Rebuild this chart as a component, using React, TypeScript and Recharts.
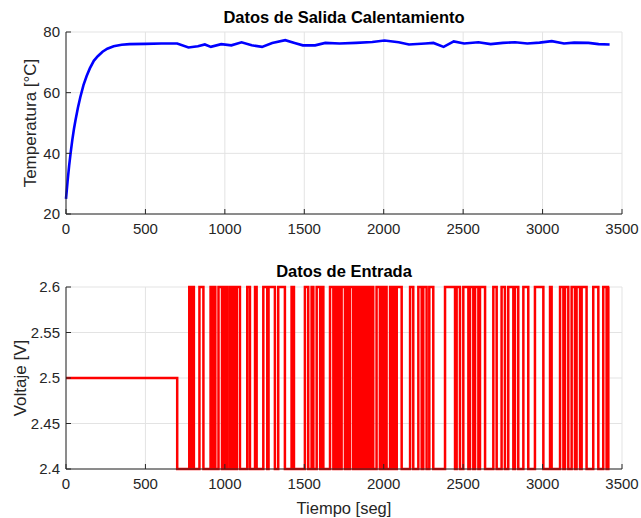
import { CartesianGrid, Line, LineChart, XAxis, YAxis } from 'recharts';

// temperature output (seconds, °C)
const tempTimes = [
  0, 10, 20, 30, 40, 50, 60, 75, 90, 110, 130, 150, 175, 200, 230, 260, 300,
  350, 400, 500, 600, 700, 771, 830, 874, 912, 977, 1041, 1105, 1169, 1234,
  1298, 1380, 1439, 1491, 1568, 1632, 1722, 1825, 1928, 2005, 2094, 2159,
  2262, 2313, 2377, 2441, 2506, 2596, 2673, 2750, 2827, 2904, 2981, 3058,
  3135, 3199, 3289, 3353, 3422,
];
const tempValues = [
  25, 30.8, 36, 40.5, 44.5, 48, 51, 55, 58.5, 62.5, 65.5, 68, 70.5, 72, 73.5,
  74.5, 75.3, 75.8, 76, 76.1, 76.2, 76.2, 74.9, 75.3, 75.9, 75.1, 76, 75.6,
  76.6, 75.6, 75.1, 76.4, 77.3, 76.4, 75.6, 75.6, 76.4, 76.2, 76.4, 76.7, 77.2,
  76.6, 75.9, 76.2, 76.4, 75.1, 76.9, 76.2, 76.6, 76, 76.4, 76.6, 76.2, 76.5,
  77, 76.2, 76.5, 76.4, 76, 75.9,
];

// input voltage switching instants (seconds) and the level held after each
const inputTimes = [
  0, 700, 776, 786, 795, 805, 840, 865, 910, 925, 932, 940, 960, 982, 990,
  1000, 1006, 1012, 1028, 1043, 1057, 1066, 1075, 1095, 1141, 1158, 1190, 1200,
  1242, 1267, 1275, 1315, 1336, 1378, 1420, 1435, 1504, 1525, 1546, 1557, 1578,
  1600, 1610, 1620, 1662, 1683, 1693, 1702, 1712, 1722, 1735, 1756, 1767, 1776,
  1788, 1808, 1819, 1830, 1840, 1850, 1860, 1871, 1880, 1892, 1900, 1913, 1920,
  1934, 1955, 1976, 1985, 1997, 2005, 2018, 2040, 2050, 2061, 2071, 2082, 2113,
  2166, 2186, 2218, 2239, 2249, 2270, 2287, 2312, 2386, 2449, 2459, 2480, 2501,
  2533, 2543, 2564, 2575, 2596, 2606, 2638, 2690, 2711, 2742, 2763, 2784, 2816,
  2826, 2847, 2879, 2910, 2952, 3005, 3047, 3057, 3110, 3131, 3141, 3162, 3183,
  3204, 3214, 3236, 3246, 3277, 3319, 3351, 3382, 3403, 3414, 3420,
];
const inputVolts = [
  2.5, 2.4, 2.6, 2.4, 2.6, 2.4, 2.6, 2.4, 2.6, 2.4, 2.6, 2.4, 2.6, 2.4, 2.6,
  2.4, 2.6, 2.4, 2.6, 2.4, 2.6, 2.4, 2.6, 2.4, 2.6, 2.4, 2.6, 2.4, 2.6, 2.4,
  2.6, 2.4, 2.6, 2.4, 2.6, 2.4, 2.6, 2.4, 2.6, 2.4, 2.6, 2.4, 2.6, 2.4, 2.6,
  2.4, 2.6, 2.4, 2.6, 2.4, 2.6, 2.4, 2.6, 2.4, 2.6, 2.4, 2.6, 2.4, 2.6, 2.4,
  2.6, 2.4, 2.6, 2.4, 2.6, 2.4, 2.6, 2.4, 2.6, 2.4, 2.6, 2.4, 2.6, 2.4, 2.6,
  2.4, 2.6, 2.4, 2.6, 2.4, 2.6, 2.4, 2.6, 2.4, 2.6, 2.4, 2.6, 2.4, 2.6, 2.4,
  2.6, 2.4, 2.6, 2.4, 2.6, 2.4, 2.6, 2.4, 2.6, 2.4, 2.6, 2.4, 2.6, 2.4, 2.6,
  2.4, 2.6, 2.4, 2.6, 2.4, 2.6, 2.4, 2.6, 2.4, 2.6, 2.4, 2.6, 2.4, 2.6, 2.4,
  2.6, 2.4, 2.6, 2.4, 2.6, 2.4, 2.6, 2.4, 2.6, 2.6,
];

const timeTicks = [0, 500, 1000, 1500, 2000, 2500, 3000, 3500];
const tempTicks = [20, 40, 60, 80];
const voltTicks = [2.4, 2.45, 2.5, 2.55, 2.6];

const FONT = '"Liberation Sans", Arial, sans-serif';
const INK = '#262626';
const tickStyle = { fontSize: 15, fill: INK, fontFamily: FONT };

const tempData = tempTimes.map((t, i) => ({ t, temp: tempValues[i] }));
const inputData = inputTimes.map((t, i) => ({ t, volt: inputVolts[i] }));

function Title({ text, top }: { text: string; top: number }) {
  return (
    <div
      style={{
        position: 'absolute',
        left: 66,
        width: 556,
        top,
        textAlign: 'center',
        fontFamily: FONT,
        fontWeight: 'bold',
        fontSize: 16.5,
        lineHeight: '19px',
        color: '#000',
      }}
    >
      {text}
    </div>
  );
}

function yTitle(text: string, x: number) {
  return ({ viewBox }: any) => {
    const cy = viewBox.y + viewBox.height / 2;
    return (
      <text
        x={x}
        y={cy}
        transform={`rotate(-90 ${x} ${cy})`}
        textAnchor="middle"
        dominantBaseline="central"
        fontSize={17}
        fontFamily={FONT}
        fill={INK}
      >
        {text}
      </text>
    );
  };
}

function boxAxes(yTicks: number[], yDomain: [number, number]) {
  // top and right edges of the axes box, with inward ticks
  return [
    <XAxis
      key="xt"
      xAxisId="top"
      orientation="top"
      type="number"
      dataKey="t"
      domain={[0, 3500]}
      ticks={timeTicks}
      tick={false}
      height={0}
      tickSize={-5}
      stroke={INK}
    />,
    <YAxis
      key="yr"
      yAxisId="right"
      orientation="right"
      type="number"
      domain={yDomain}
      ticks={yTicks}
      tick={false}
      width={0}
      tickSize={-5}
      stroke={INK}
    />,
  ];
}

export default function App() {
  return (
    <div style={{ position: 'absolute', left: 0, top: 0, width: 641, height: 518, background: '#fff' }}>
      <Title text="Datos de Salida Calentamiento" top={8} />
      <Title text="Datos de Entrada" top={262} />

      <div style={{ position: 'absolute', left: 0, top: 0 }}>
        <LineChart
          width={641}
          height={250}
          data={tempData}
          margin={{ top: 32, right: 19, bottom: 6, left: 0 }}
        >
          <CartesianGrid stroke="#e3e3e3" />
          <XAxis
            type="number"
            dataKey="t"
            domain={[0, 3500]}
            ticks={timeTicks}
            height={30}
            tickSize={-5}
            tickMargin={14}
            tick={tickStyle}
            stroke={INK}
          />
          <YAxis
            type="number"
            domain={[20, 80]}
            ticks={tempTicks}
            width={66}
            tickSize={-5}
            tickMargin={11}
            tick={tickStyle}
            stroke={INK}
            label={{ content: yTitle('Temperatura [°C]', 30) }}
          />
          {boxAxes(tempTicks, [20, 80])}
          <Line
            dataKey="temp"
            type="linear"
            stroke="#0000ff"
            strokeWidth={2.6}
            dot={false}
            isAnimationActive={false}
          />
        </LineChart>
      </div>

      <div style={{ position: 'absolute', left: 0, top: 250 }}>
        <LineChart
          width={641}
          height={268}
          data={inputData}
          margin={{ top: 37, right: 19, bottom: 0, left: 0 }}
        >
          <CartesianGrid stroke="#e3e3e3" />
          <XAxis
            type="number"
            dataKey="t"
            domain={[0, 3500]}
            ticks={timeTicks}
            height={49}
            tickSize={-5}
            tickMargin={14}
            tick={tickStyle}
            stroke={INK}
            label={{
              value: 'Tiempo [seg]',
              position: 'insideBottom',
              offset: 4,
              style: { fontSize: 16.5, fill: INK, fontFamily: FONT },
            }}
          />
          <YAxis
            type="number"
            domain={[2.4, 2.6]}
            ticks={voltTicks}
            width={66}
            tickSize={-5}
            tickMargin={11}
            tick={tickStyle}
            stroke={INK}
            label={{ content: yTitle('Voltaje [V]', 20) }}
          />
          {boxAxes(voltTicks, [2.4, 2.6])}
          <Line
            dataKey="volt"
            type="stepAfter"
            stroke="#ff0000"
            strokeWidth={2.5}
            dot={false}
            isAnimationActive={false}
          />
        </LineChart>
      </div>
    </div>
  );
}
